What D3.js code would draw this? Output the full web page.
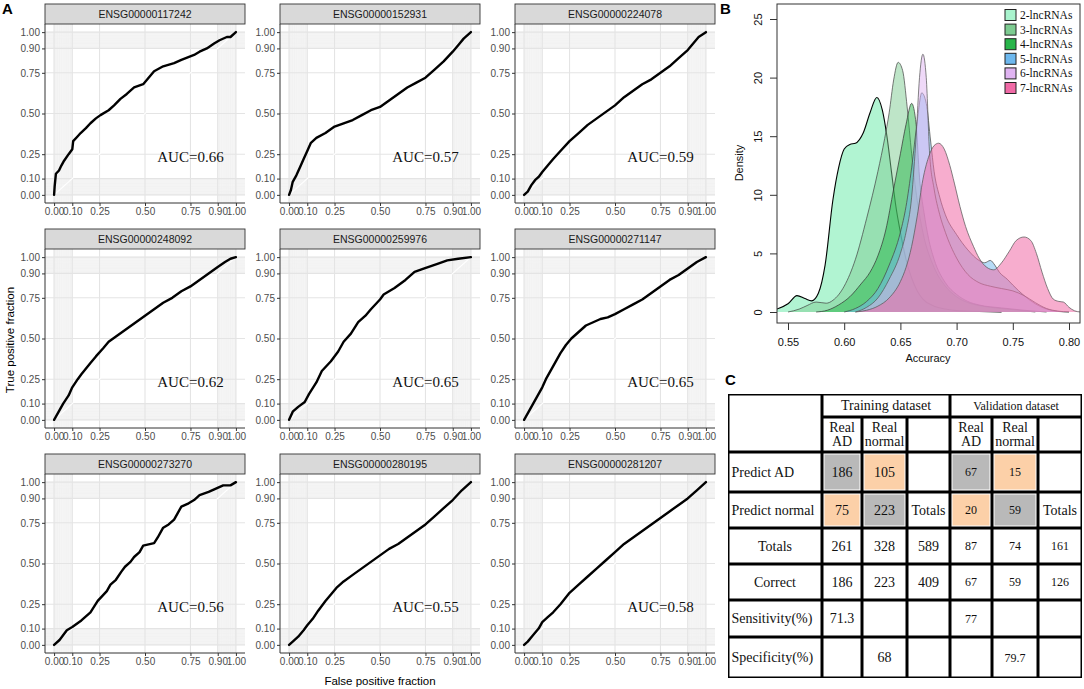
<!DOCTYPE html>
<html><head><meta charset="utf-8">
<script src="https://cdn.jsdelivr.net/npm/d3@7"></script>
<style>body{margin:0;background:#fff}svg{display:block}</style>
</head><body>
<svg id="c" width="1084" height="689"></svg>
<script>
// ---------------- DATA ----------------
const rocGenes = ["ENSG00000117242","ENSG00000152931","ENSG00000224078",
                  "ENSG00000248092","ENSG00000259976","ENSG00000271147",
                  "ENSG00000273270","ENSG00000280195","ENSG00000281207"];
const rocAUC = ["0.66","0.57","0.59","0.62","0.65","0.65","0.56","0.55","0.58"];
const rocTicks = [0,0.1,0.25,0.5,0.75,0.9,1];
const rocTickLabels = ["0.00","0.10","0.25","0.50","0.75","0.90","1.00"];

const roc1 = [[0,0],[0.003,0.05],[0.01,0.13],[0.027,0.15],[0.04,0.18],[0.055,0.21],[0.08,0.25],[0.1,0.28],[0.105,0.33],[0.13,0.36],[0.146,0.38],[0.175,0.41],[0.2,0.44],[0.23,0.47],[0.255,0.49],[0.3,0.52],[0.33,0.55],[0.365,0.59],[0.4,0.62],[0.44,0.66],[0.49,0.68],[0.52,0.72],[0.55,0.76],[0.6,0.79],[0.66,0.81],[0.7,0.83],[0.77,0.86],[0.8,0.88],[0.84,0.9],[0.88,0.93],[0.91,0.95],[0.95,0.97],[0.97,0.97],[1,1]];
const roc2 = [[0,0],[0.01,0.03],[0.02,0.08],[0.04,0.12],[0.06,0.17],[0.08,0.22],[0.1,0.27],[0.12,0.32],[0.15,0.35],[0.2,0.38],[0.25,0.42],[0.3,0.44],[0.35,0.46],[0.4,0.49],[0.45,0.52],[0.5,0.54],[0.55,0.58],[0.6,0.62],[0.65,0.66],[0.7,0.69],[0.75,0.72],[0.8,0.77],[0.85,0.82],[0.9,0.88],[0.93,0.92],[0.96,0.96],[1,1]];
const roc3 = [[0,0],[0.02,0.02],[0.04,0.06],[0.06,0.09],[0.08,0.11],[0.1,0.14],[0.13,0.18],[0.16,0.22],[0.2,0.27],[0.25,0.33],[0.3,0.38],[0.35,0.43],[0.4,0.47],[0.45,0.51],[0.5,0.55],[0.55,0.6],[0.6,0.64],[0.65,0.68],[0.7,0.71],[0.75,0.75],[0.8,0.79],[0.85,0.84],[0.9,0.89],[0.93,0.93],[0.96,0.97],[1,1]];
const roc4 = [[0,0],[0.01,0.02],[0.03,0.06],[0.05,0.1],[0.08,0.15],[0.1,0.2],[0.13,0.25],[0.15,0.28],[0.2,0.35],[0.23,0.39],[0.27,0.44],[0.3,0.48],[0.35,0.52],[0.4,0.56],[0.45,0.6],[0.5,0.64],[0.55,0.68],[0.6,0.72],[0.65,0.75],[0.7,0.79],[0.75,0.82],[0.8,0.86],[0.85,0.9],[0.9,0.94],[0.94,0.97],[0.97,0.99],[1,1]];
const roc5 = [[0,0],[0.02,0.05],[0.05,0.08],[0.086,0.11],[0.11,0.16],[0.15,0.23],[0.18,0.3],[0.23,0.36],[0.27,0.42],[0.3,0.48],[0.34,0.53],[0.38,0.6],[0.42,0.64],[0.45,0.68],[0.5,0.74],[0.52,0.77],[0.58,0.81],[0.64,0.86],[0.69,0.91],[0.74,0.93],[0.82,0.96],[0.87,0.98],[0.93,0.99],[1,1]];
const roc6 = [[0,0],[0.01,0.02],[0.03,0.06],[0.05,0.1],[0.07,0.14],[0.1,0.2],[0.12,0.25],[0.15,0.31],[0.18,0.37],[0.2,0.41],[0.23,0.46],[0.26,0.5],[0.3,0.54],[0.34,0.58],[0.38,0.6],[0.42,0.62],[0.46,0.63],[0.5,0.65],[0.55,0.68],[0.6,0.71],[0.65,0.74],[0.7,0.78],[0.75,0.82],[0.8,0.86],[0.85,0.89],[0.9,0.93],[0.95,0.97],[1,1]];
const roc7 = [[0,0],[0.03,0.03],[0.07,0.09],[0.1,0.11],[0.15,0.15],[0.2,0.2],[0.24,0.27],[0.29,0.33],[0.31,0.37],[0.34,0.4],[0.37,0.45],[0.39,0.48],[0.42,0.51],[0.44,0.54],[0.47,0.57],[0.49,0.61],[0.55,0.625],[0.57,0.66],[0.6,0.72],[0.63,0.74],[0.66,0.77],[0.68,0.81],[0.7,0.85],[0.74,0.87],[0.77,0.89],[0.8,0.92],[0.85,0.94],[0.89,0.96],[0.93,0.98],[0.97,0.98],[1,1]];
const roc8 = [[0,0],[0.02,0.02],[0.05,0.05],[0.08,0.09],[0.1,0.12],[0.13,0.16],[0.16,0.21],[0.2,0.27],[0.23,0.31],[0.26,0.35],[0.3,0.39],[0.35,0.43],[0.4,0.47],[0.45,0.51],[0.5,0.55],[0.55,0.59],[0.6,0.62],[0.65,0.66],[0.7,0.7],[0.75,0.74],[0.8,0.79],[0.85,0.84],[0.9,0.89],[0.95,0.95],[1,1]];
const roc9 = [[0,0],[0.02,0.02],[0.05,0.06],[0.08,0.1],[0.1,0.14],[0.13,0.17],[0.16,0.2],[0.2,0.25],[0.25,0.32],[0.3,0.37],[0.35,0.42],[0.4,0.47],[0.45,0.52],[0.5,0.57],[0.55,0.62],[0.6,0.66],[0.65,0.7],[0.7,0.74],[0.75,0.78],[0.8,0.82],[0.85,0.86],[0.9,0.9],[0.95,0.95],[1,1]];

const densNames = ["2-lncRNAs","3-lncRNAs","4-lncRNAs","5-lncRNAs","6-lncRNAs","7-lncRNAs"];
const dens2 = [[0.54,0.25],[0.55,0.7],[0.558,1.4],[0.565,1.15],[0.571,0.95],[0.577,1.6],[0.583,4],[0.59,9.6],[0.595,12.3],[0.6,13.9],[0.605,14.3],[0.61,14.4],[0.617,15.3],[0.623,17],[0.629,18.3],[0.634,17.2],[0.638,15],[0.642,12],[0.646,9],[0.65,6.8],[0.655,4.5],[0.66,2.9],[0.665,1.8],[0.67,1.1],[0.68,0.5],[0.69,0.25],[0.70,0.12],[0.72,0.05],[0.74,0]];
const dens3 = [[0.55,0],[0.56,0.25],[0.567,0.55],[0.575,0.85],[0.584,0.75],[0.59,1.0],[0.6,2.2],[0.61,4.5],[0.62,8],[0.63,12],[0.636,14.8],[0.64,17],[0.644,19.8],[0.648,21.3],[0.652,20.6],[0.656,17.5],[0.66,13.5],[0.665,9.5],[0.67,6.8],[0.68,3.8],[0.69,2.2],[0.70,1.3],[0.71,0.8],[0.72,0.55],[0.73,0.4],[0.75,0.2],[0.77,0]];
const dens4 = [[0.575,0],[0.585,0.15],[0.595,0.6],[0.605,1.3],[0.615,2.4],[0.623,3.4],[0.63,4.8],[0.637,7],[0.644,10.5],[0.65,13.5],[0.655,16],[0.66,17.8],[0.664,16],[0.667,11.5],[0.671,8.5],[0.675,6.3],[0.68,4.5],[0.69,2.5],[0.70,1.5],[0.71,0.9],[0.72,0.6],[0.74,0.35],[0.76,0.15],[0.78,0]];
const dens5 = [[0.6,0],[0.61,0.3],[0.62,0.9],[0.63,2],[0.64,4],[0.65,6.8],[0.655,9],[0.66,12.3],[0.665,16.3],[0.669,18.7],[0.673,17.8],[0.677,14.5],[0.68,12],[0.685,9.8],[0.69,8.3],[0.70,6.6],[0.71,5.3],[0.72,4.4],[0.725,4.2],[0.73,4.4],[0.734,4.0],[0.738,3.4],[0.745,2.8],[0.75,2.3],[0.76,1.4],[0.77,0.7],[0.78,0.25],[0.79,0.05],[0.80,0]];
const dens6 = [[0.61,0],[0.62,0.4],[0.63,1.2],[0.64,2.8],[0.65,5],[0.655,6.8],[0.66,9.8],[0.664,15],[0.667,20],[0.67,22],[0.673,20],[0.676,13.5],[0.68,10.5],[0.685,8.3],[0.69,6.8],[0.70,4.6],[0.71,3.2],[0.72,2.5],[0.73,2.2],[0.74,2.0],[0.75,1.8],[0.76,1.4],[0.77,0.8],[0.78,0.3],[0.79,0.08],[0.80,0]];
const dens7 = [[0.61,0],[0.62,0.15],[0.63,0.5],[0.64,1.2],[0.65,2.6],[0.655,3.8],[0.66,5.6],[0.665,8.2],[0.67,11.3],[0.675,13.2],[0.68,14.2],[0.684,14.4],[0.689,13.9],[0.694,12.5],[0.698,11],[0.703,9],[0.708,7.3],[0.715,5.6],[0.72,4.6],[0.727,3.8],[0.733,3.6],[0.74,4.2],[0.747,5.2],[0.753,6.1],[0.76,6.4],[0.766,6.1],[0.771,5],[0.776,3.4],[0.781,2],[0.786,1.1],[0.791,0.9],[0.795,0.85],[0.80,0.4],[0.805,0.1],[0.81,0]];
const densXTicks = [0.55,0.60,0.65,0.70,0.75,0.80];
const densYTicks = [0,5,10,15,20,25];

const tableRowLabels = ["Predict AD","Predict normal","Totals","Correct","Sensitivity(%)","Specificity(%)"];
const trainingValues = [["186","105",""],["75","223","Totals"],["261","328","589"],["186","223","409"],["71.3","",""],["","68",""]];
const validationValues = [["67","15",""],["20","59","Totals"],["87","74","161"],["67","59","126"],["77","",""],["","79.7",""]];

// ---------------- STYLE / LAYOUT ----------------
const SANS = "'Liberation Sans', Arial, sans-serif";
const SERIF = "'Liberation Serif', 'Times New Roman', serif";
const svg = d3.select("#c");

// ---------------- PANEL A ----------------
const rocData = [roc1,roc2,roc3,roc4,roc5,roc6,roc7,roc8,roc9];
const colLeft = [45,280,515], rowTop = [4,229,454];
const PW = 200, SH = 20, PH = 179;
const minorTicks = d3.range(0,11).map(k=>k/100).concat(d3.range(90,101).map(k=>k/100));
const bands = [[0,0.1],[0.9,1]];

rocData.forEach((d,i)=>{
  const c = i%3, r = Math.floor(i/3);
  const x0 = colLeft[c], y0 = rowTop[r] + SH;
  const x = d3.scaleLinear().domain([-0.05,1.05]).range([x0, x0+PW]);
  const y = d3.scaleLinear().domain([-0.05,1.05]).range([y0+PH, y0]);
  const g = svg.append("g");
  g.append("rect").attr("x",x0).attr("y",y0).attr("width",PW).attr("height",PH).attr("fill","#fff");
  // shaded bands from dense minor grid
  g.selectAll(".bv").data(bands).join("rect")
    .attr("x",b=>x(b[0])).attr("width",b=>x(b[1])-x(b[0])).attr("y",y0).attr("height",PH)
    .attr("fill","#f6f6f6");
  g.selectAll(".bh").data(bands).join("rect")
    .attr("y",b=>y(b[1])).attr("height",b=>y(b[0])-y(b[1])).attr("x",x0).attr("width",PW)
    .attr("fill","#f6f6f6");
  g.selectAll(".mv").data(minorTicks).join("line")
    .attr("x1",v=>x(v)).attr("x2",v=>x(v)).attr("y1",y0).attr("y2",y0+PH)
    .attr("stroke","#eeeeee").attr("stroke-width",0.5);
  g.selectAll(".mh").data(minorTicks).join("line")
    .attr("y1",v=>y(v)).attr("y2",v=>y(v)).attr("x1",x0).attr("x2",x0+PW)
    .attr("stroke","#eeeeee").attr("stroke-width",0.5);
  // major grid
  g.selectAll(".gv").data(rocTicks).join("line")
    .attr("x1",v=>x(v)).attr("x2",v=>x(v)).attr("y1",y0).attr("y2",y0+PH)
    .attr("stroke","#e4e4e4").attr("stroke-width",1.1);
  g.selectAll(".gh").data(rocTicks).join("line")
    .attr("y1",v=>y(v)).attr("y2",v=>y(v)).attr("x1",x0).attr("x2",x0+PW)
    .attr("stroke","#e4e4e4").attr("stroke-width",1.1);
  // diagonal
  g.append("line").attr("x1",x(0)).attr("y1",y(0)).attr("x2",x(1)).attr("y2",y(1))
    .attr("stroke","#fff").attr("stroke-width",1.3);
  // curve
  g.append("path").datum(d)
    .attr("d", d3.line().x(p=>x(p[0])).y(p=>y(p[1])))
    .attr("fill","none").attr("stroke","#000").attr("stroke-width",2.4)
    .attr("stroke-linejoin","round").attr("stroke-linecap","round");
  // AUC
  g.append("text").attr("x",x(0.75)).attr("y",y(0.23)).attr("text-anchor","middle")
    .attr("dominant-baseline","central").attr("font-family",SERIF).attr("font-size",15)
    .attr("fill","#111").text("AUC="+rocAUC[i]);
  // axes
  const fmt = v => rocTickLabels[rocTicks.indexOf(v)];
  const ax = g.append("g").attr("transform",`translate(${x0},0)`)
    .call(d3.axisLeft(y).tickValues(rocTicks).tickFormat(fmt).tickSize(3).tickSizeOuter(0).tickPadding(2));
  const bx = g.append("g").attr("transform",`translate(0,${y0+PH})`)
    .call(d3.axisBottom(x).tickValues(rocTicks).tickFormat(fmt).tickSize(3).tickSizeOuter(0).tickPadding(2));
  [ax,bx].forEach(a=>{
    a.select(".domain").remove();
    a.selectAll("line").attr("stroke","#333");
    a.selectAll("text").attr("font-family",SANS).attr("font-size",10).attr("fill","#4d4d4d");
  });
  g.append("line").attr("x1",x0).attr("x2",x0).attr("y1",y0).attr("y2",y0+PH).attr("stroke","#333").attr("stroke-width",1);
  g.append("line").attr("x1",x0).attr("x2",x0+PW).attr("y1",y0+PH).attr("y2",y0+PH).attr("stroke","#333").attr("stroke-width",1);
  // strip
  g.append("rect").attr("x",x0).attr("y",rowTop[r]).attr("width",PW).attr("height",SH)
    .attr("fill","#d9d9d9").attr("stroke","#333").attr("stroke-width",0.9);
  g.append("text").attr("x",x0+PW/2).attr("y",rowTop[r]+SH/2).attr("text-anchor","middle")
    .attr("dominant-baseline","central").attr("font-family",SANS).attr("font-size",10.5)
    .attr("fill","#1a1a1a").text(rocGenes[i]);
});
svg.append("text").attr("x",380).attr("y",681).attr("text-anchor","middle").attr("dominant-baseline","central")
  .attr("font-family",SANS).attr("font-size",11.5).attr("fill","#000").text("False positive fraction");
svg.append("text").attr("transform","translate(10,340) rotate(-90)").attr("text-anchor","middle").attr("dominant-baseline","central")
  .attr("font-family",SANS).attr("font-size",11.5).attr("fill","#000").text("True positive fraction");

// ---------------- PANEL B ----------------
const FX0 = 777, FX1 = 1080, FY0 = 4, FY1 = 323;
const dx = d3.scaleLinear().domain([0.55,0.80]).range([788,1069]);
const dy = d3.scaleLinear().domain([0,25]).range([312,19]);
const densData = [dens2,dens3,dens4,dens5,dens6,dens7];
const densFill = ["#a8f3cd","#7dcb91","#28b54a","#6db8ee","#e0b4f2","#f06aa6"];
const densOpacity = [0.9,0.5,0.5,0.5,0.5,0.55];
const densStroke = ["#000","#444","#333","#444","#555","#555"];
svg.append("clipPath").attr("id","bclip").append("rect")
  .attr("x",FX0).attr("y",FY0).attr("width",FX1-FX0).attr("height",FY1-FY0);
const bg = svg.append("g").attr("clip-path","url(#bclip)");
const area = d3.area().x(p=>dx(p[0])).y0(dy(0)).y1(p=>dy(p[1])).curve(d3.curveMonotoneX);
const line = d3.line().x(p=>dx(p[0])).y(p=>dy(p[1])).curve(d3.curveMonotoneX);
densData.forEach((d,i)=>{
  bg.append("path").datum(d).attr("d",area).attr("fill",densFill[i]).attr("fill-opacity",densOpacity[i]);
  bg.append("path").datum(d).attr("d",line).attr("fill","none").attr("stroke",densStroke[i])
    .attr("stroke-width",i===0?1.1:0.9).attr("stroke-opacity",i===0?1:0.8);
});
svg.append("rect").attr("x",FX0).attr("y",FY0).attr("width",FX1-FX0).attr("height",FY1-FY0)
  .attr("fill","none").attr("stroke","#333").attr("stroke-width",1);
const bxa = svg.append("g").attr("transform",`translate(0,${FY1})`)
  .call(d3.axisBottom(dx).tickValues(densXTicks).tickFormat(d3.format(".2f")).tickSize(7).tickSizeOuter(0).tickPadding(8));
const bya = svg.append("g").attr("transform",`translate(${FX0},0)`)
  .call(d3.axisLeft(dy).tickValues(densYTicks).tickFormat(d3.format("d")).tickSize(7).tickSizeOuter(0));
[bxa,bya].forEach(a=>{
  a.select(".domain").remove();
  a.selectAll("line").attr("stroke","#333");
  a.selectAll("text").attr("font-family",SANS).attr("font-size",11).attr("fill","#111");
});
bya.selectAll("text").attr("x",null).attr("dy",null).attr("text-anchor","middle")
  .attr("dominant-baseline","central").attr("transform","translate(-19,0) rotate(-90)");
svg.append("text").attr("x",928).attr("y",358).attr("text-anchor","middle").attr("dominant-baseline","central")
  .attr("font-family",SANS).attr("font-size",11).attr("fill","#111").text("Accuracy");
svg.append("text").attr("transform","translate(739,163) rotate(-90)").attr("text-anchor","middle").attr("dominant-baseline","central")
  .attr("font-family",SANS).attr("font-size",11).attr("fill","#111").text("Density");
// legend
const lg = svg.append("g");
densNames.forEach((n,i)=>{
  const cy = 15 + i*14.6;
  lg.append("rect").attr("x",1005).attr("y",cy-5.5).attr("width",11).attr("height",11)
    .attr("fill",densFill[i]).attr("stroke","#222").attr("stroke-width",1);
  lg.append("text").attr("x",1020).attr("y",cy).attr("dominant-baseline","central")
    .attr("font-family",SERIF).attr("font-size",11.5).attr("fill","#111").text(n);
});

// ---------------- PANEL C ----------------
const tCol = [728,822,862,907,950,992,1038,1082];
const tRow = [394,417,452,492,528,564,600,637,678];
const tg = svg.append("g");
tg.append("rect").attr("x",tCol[0]).attr("y",tRow[0]).attr("width",tCol[7]-tCol[0]).attr("height",tRow[8]-tRow[0]).attr("fill","#000");
const cells = [];
cells.push({r0:0,r1:2,c0:0,c1:1,lines:[]});
cells.push({r0:0,r1:1,c0:1,c1:4,lines:["Training  dataset"],size:14});
cells.push({r0:0,r1:1,c0:4,c1:7,lines:["Validation dataset"],size:12});
[["Real","AD"],["Real","normal"],[]].forEach((l,k)=>{
  cells.push({r0:1,r1:2,c0:1+k,c1:2+k,lines:l,size:14});
  cells.push({r0:1,r1:2,c0:4+k,c1:5+k,lines:l,size:14});
});
const hiGrey = "#b9b9b9", hiPeach = "#fcd0a8";
const highlight = (ri,k) => (ri===0&&k===0)||(ri===1&&k===1) ? hiGrey : ((ri===0&&k===1)||(ri===1&&k===0) ? hiPeach : null);
tableRowLabels.forEach((lab,ri)=>{
  const centered = (lab==="Totals"||lab==="Correct");
  cells.push({r0:ri+2,r1:ri+3,c0:0,c1:1,lines:[lab],size:14,align:centered?"middle":"start"});
  trainingValues[ri].forEach((v,k)=>cells.push({r0:ri+2,r1:ri+3,c0:1+k,c1:2+k,lines:v?[v]:[],size:14,fill:highlight(ri,k)}));
  validationValues[ri].forEach((v,k)=>cells.push({r0:ri+2,r1:ri+3,c0:4+k,c1:5+k,lines:v?[v]:[],size:v==="Totals"?14:12,fill:highlight(ri,k)}));
});
const ins = 1.5;
cells.forEach(cl=>{
  const x1 = tCol[cl.c0]+ins, x2 = tCol[cl.c1]-ins, y1 = tRow[cl.r0]+ins, y2 = tRow[cl.r1]-ins;
  tg.append("rect").attr("x",x1).attr("y",y1).attr("width",x2-x1).attr("height",y2-y1).attr("fill","#fff");
  if (cl.fill) tg.append("rect").attr("x",x1+1).attr("y",y1+1).attr("width",x2-x1-2).attr("height",y2-y1-2).attr("fill",cl.fill);
  const n = cl.lines.length;
  const lh = cl.size || 14;
  cl.lines.forEach((t,j)=>{
    const cy = (y1+y2)/2 + (j-(n-1)/2)*lh*0.98;
    const left = cl.align==="start";
    tg.append("text").attr("x", left ? x1+2 : (x1+x2)/2).attr("y",cy)
      .attr("text-anchor", left ? "start" : "middle").attr("dominant-baseline","central")
      .attr("font-family",SERIF).attr("font-size",cl.size).attr("fill","#111").text(t);
  });
});

// panel letters
[["A",2,14],["B",720,14],["C",725,385]].forEach(([t,x,y])=>{
  svg.append("text").attr("x",x).attr("y",y).attr("font-family",SANS).attr("font-weight","bold")
    .attr("font-size",15).attr("fill","#000").text(t);
});
</script>
</body></html>
